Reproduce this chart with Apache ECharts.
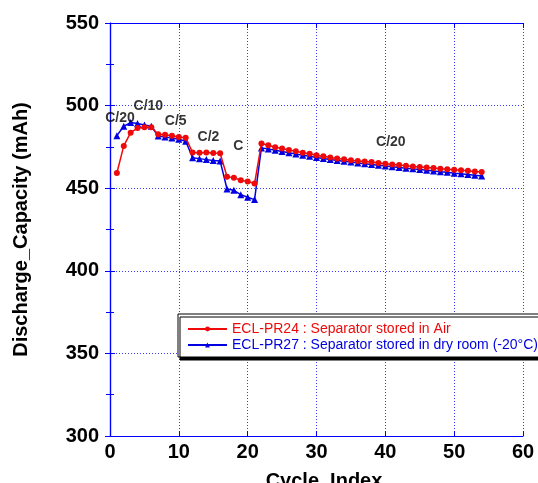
<!DOCTYPE html>
<html>
<head>
<meta charset="utf-8">
<script src="https://cdn.jsdelivr.net/npm/echarts@6/dist/echarts.min.js"></script>
<style>
  html, body { margin: 0; padding: 0; background: #fff; }
  #chart { width: 538px; height: 483px; }
</style>
</head>
<body>
<div id="chart"></div>
<script>
// cycle numbers 1..54
var cycles = [1, 2, 3, 4, 5, 6, 7, 8, 9, 10, 11, 12, 13, 14, 15, 16, 17, 18, 19, 20,
  21, 22, 23, 24, 25, 26, 27, 28, 29, 30, 31, 32, 33, 34, 35, 36, 37, 38, 39, 40,
  41, 42, 43, 44, 45, 46, 47, 48, 49, 50, 51, 52, 53, 54];

// ECL-PR24 : separator stored in air
var capAir = [459.2, 475.6, 483.6, 486.4, 486.9, 486.9, 482.6, 482.4, 481.8, 481.0,
  480.6, 471.6, 471.4, 471.6, 471.3, 471.2, 457.0, 456.4, 454.8, 454.0,
  452.8, 477.0, 476.0, 474.8, 474.0, 473.1, 472.3, 471.5, 470.9, 470.0,
  469.4, 468.6, 468.0, 467.5, 466.9, 466.5, 466.2, 465.8, 465.3, 464.8,
  464.4, 464.0, 463.6, 463.2, 462.9, 462.5, 462.2, 461.8, 461.5, 461.1,
  460.8, 460.5, 460.1, 459.8];

// ECL-PR27 : separator stored in dry room
var capDry = [481.8, 487.5, 489.7, 489.1, 488.3, 487.5, 481.6, 481.0, 480.4, 479.6,
  478.4, 468.5, 467.9, 467.3, 466.7, 466.5, 449.5, 448.7, 446.1, 444.5,
  443.1, 474.4, 473.8, 473.0, 472.2, 471.4, 470.7, 470.0, 469.3, 468.6,
  468.0, 467.4, 466.8, 466.3, 465.8, 465.3, 464.8, 464.3, 463.9, 463.4,
  463.0, 462.5, 462.1, 461.7, 461.3, 460.9, 460.4, 460.0, 459.6, 459.1,
  458.7, 458.3, 457.8, 457.4];

// C-rate labels placed in data space
var rateNames = ['C/20', 'C/10', 'C/5', 'C/2', 'C', 'C/20'];
var rateX = [1.45, 5.57, 9.55, 14.3, 18.65, 40.8];
var rateY = [492.7, 499.6, 490.3, 480.8, 475.3, 477.6];

var nameAir = 'ECL-PR24 : Separator stored in Air';
var nameDry = 'ECL-PR27 : Separator stored in dry room (-20°C)';

var RED = '#ee0a0a';
var BLUE = '#0000e0';
var FRAME = '#0000ff';
var FONT = "'Liberation Sans', Arial, sans-serif";

function pairs(xs, ys) {
  return xs.map(function (x, i) { return [x, ys[i]]; });
}

var chart = echarts.init(document.getElementById('chart'), null, { renderer: 'canvas' });

var frameAxis = {
  axisLine: { show: true, lineStyle: { color: FRAME, width: 1.2 } },
  axisTick: { show: true, inside: true, length: 5, lineStyle: { color: FRAME } },
  axisLabel: { show: false },
  splitLine: { show: false }
};
var gridLine = { show: true, lineStyle: { color: '#3a3aff', type: [1, 2], width: 1 } };

chart.setOption({
  animation: false,
  backgroundColor: '#fff',
  grid: { left: 110, right: 15, top: 23, bottom: 47, outerBoundsMode: 'none' },
  legend: {
    orient: 'vertical',
    left: 178,
    top: 314,
    padding: [8, 10, 5, 9],
    itemWidth: 39,
    itemHeight: 6,
    itemGap: 2,
    backgroundColor: '#fff',
    borderColor: '#000',
    borderWidth: 1,
    shadowColor: '#000',
    shadowBlur: 0,
    shadowOffsetX: 2,
    shadowOffsetY: 3,
    data: [
      { name: nameAir, textStyle: { color: RED } },
      { name: nameDry, textStyle: { color: BLUE } }
    ],
    textStyle: { fontFamily: FONT, fontSize: 14, lineHeight: 14 }
  },
  xAxis: [{
    type: 'value',
    min: 0,
    max: 60,
    interval: 10,
    position: 'bottom',
    name: 'Cycle  Index',
    nameLocation: 'middle',
    nameGap: 35,
    nameTextStyle: { fontFamily: FONT, fontSize: 20, fontWeight: 'bold', color: '#000', padding: [0, 0, 0, 15] },
    axisLine: { show: true, lineStyle: { color: FRAME, width: 1.2 } },
    axisTick: { show: true, inside: true, length: 5, lineStyle: { color: FRAME } },
    axisLabel: { margin: 6, fontFamily: FONT, fontSize: 20, fontWeight: 'bold', color: '#000' },
    splitLine: gridLine
  }, Object.assign({ type: 'value', min: 0, max: 60, interval: 10, position: 'top' }, frameAxis)],
  yAxis: [{
    type: 'value',
    min: 300,
    max: 550,
    interval: 50,
    position: 'left',
    name: 'Discharge_Capacity (mAh)',
    nameLocation: 'middle',
    nameGap: 79,
    nameTextStyle: { fontFamily: FONT, fontSize: 20, fontWeight: 'bold', color: '#000' },
    axisLine: { show: true, lineStyle: { color: FRAME, width: 1.2 } },
    axisTick: { show: true, inside: true, length: 5, lineStyle: { color: FRAME } },
    minorTick: { show: true, splitNumber: 2, length: 4, lineStyle: { color: FRAME } },
    axisLabel: { margin: 11, fontFamily: FONT, fontSize: 20, fontWeight: 'bold', color: '#000' },
    splitLine: gridLine
  }, Object.assign({
    type: 'value', min: 300, max: 550, interval: 50, position: 'right',
    minorTick: { show: true, splitNumber: 2, length: 4, lineStyle: { color: FRAME } }
  }, frameAxis)],
  series: [
    {
      name: nameAir,
      type: 'line',
      data: pairs(cycles, capAir),
      symbol: 'circle',
      symbolSize: 6,
      lineStyle: { color: RED, width: 1.5 },
      itemStyle: { color: RED },
      z: 3
    },
    {
      name: nameDry,
      type: 'line',
      data: pairs(cycles, capDry),
      symbol: 'triangle',
      symbolSize: 7,
      lineStyle: { color: BLUE, width: 1.5 },
      itemStyle: { color: BLUE },
      z: 2
    },
    {
      name: 'rates',
      type: 'scatter',
      symbolSize: 0,
      itemStyle: { color: '#000' },
      silent: true,
      label: {
        show: true,
        position: 'inside',
        formatter: '{b}',
        fontFamily: FONT,
        fontSize: 14,
        fontWeight: 'bold',
        color: '#000',
        textBorderWidth: 0
      },
      data: rateNames.map(function (n, i) { return { name: n, value: [rateX[i], rateY[i]] }; }),
      z: 5
    }
  ]
});
</script>
</body>
</html>
